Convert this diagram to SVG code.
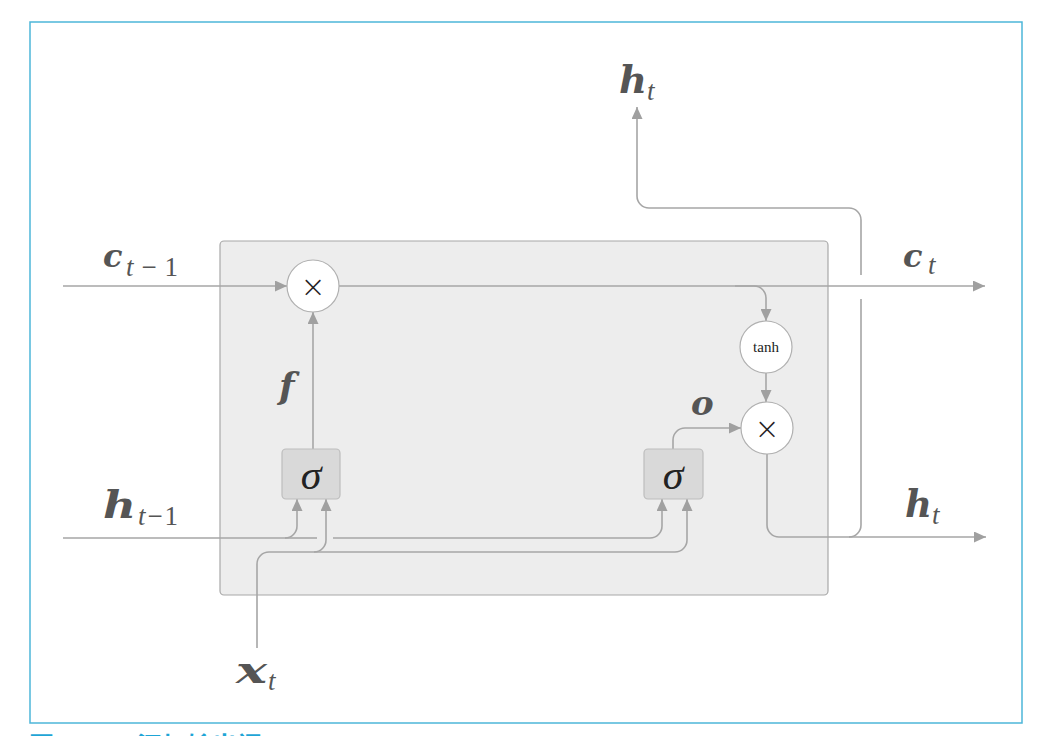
<svg xmlns="http://www.w3.org/2000/svg" width="1056" height="736" viewBox="0 0 1056 736">
  <style>
    .frame { fill: #ffffff; stroke: #4db6d9; stroke-width: 1.5; }
    .cell { fill: #ededed; stroke: #a8a8a8; stroke-width: 1.2; }
    .gate { fill: #d9d9d9; stroke: #bdbdbd; stroke-width: 1.2; }
    .op { fill: #ffffff; stroke: #b0b0b0; stroke-width: 1.2; }
    .wire { fill: none; stroke: #a6a6a6; stroke-width: 1.6; }
    .arrow { fill: none; stroke: #a6a6a6; stroke-width: 1.6; marker-end: url(#tip); }
    .var { font-family: "DejaVu Serif", "Liberation Serif", serif; font-weight: bold; font-style: italic; fill: #555555; }
    .sub { font-family: "Liberation Serif", serif; font-style: italic; fill: #555555; font-size: 27px; }
    .num { font-style: normal; }
    .sigma { font-family: "Liberation Serif", serif; font-style: italic; font-size: 42px; fill: #222222; text-anchor: middle; }
    .times { font-family: "DejaVu Sans", sans-serif; font-weight: 200; font-size: 30px; fill: #222222; text-anchor: middle; }
    .tanh { font-family: "Liberation Serif", serif; font-size: 15px; fill: #222222; text-anchor: middle; }
    .caption { font-family: "Noto Sans CJK SC", sans-serif; fill: #1ea5d6; font-weight: bold; font-size: 25px; }
  </style>
  <defs>
    <marker id="tip" markerUnits="userSpaceOnUse" markerWidth="13" markerHeight="11" refX="12" refY="5.5" orient="auto">
      <path d="M0,0 L12,5.5 L0,11 z" fill="#a0a0a0"/>
    </marker>
  </defs>

  <rect x="0" y="0" width="1056" height="736" fill="#ffffff"/>
  <rect class="frame" x="30" y="22" width="992" height="701"/>

  <!-- LSTM cell body -->
  <g id="cell">
    <rect class="cell" x="220" y="241" width="608" height="354" rx="4"/>
  </g>

  <!-- connectors -->
  <g id="connectors">
    <!-- memory cell path -->
    <path class="arrow" d="M63,286 H287"/>
    <path class="arrow" d="M339,286 H985"/>
    <path class="arrow" d="M735,286 H754 A12,12 0 0 1 766,298 V321"/>
    <path class="arrow" d="M766,373 V402"/>
    <!-- forget gate -->
    <path class="arrow" d="M313,449 V312"/>
    <!-- output gate -->
    <path class="arrow" d="M673,449 V440 A12,12 0 0 1 685,428 H741"/>
    <!-- previous hidden state -->
    <path class="arrow" d="M63,538 H285 A12,12 0 0 0 297,526 V499"/>
    <path class="wire" d="M285,538 H317"/>
    <path class="arrow" d="M333,538 H650 A12,12 0 0 0 662,526 V499"/>
    <!-- input x_t -->
    <path class="wire" d="M257,648 V564 A12,12 0 0 1 269,552 H314"/>
    <path class="arrow" d="M314,552 A12,12 0 0 0 326,540 V499"/>
    <path class="arrow" d="M314,552 H675 A12,12 0 0 0 687,540 V499"/>
    <!-- new hidden state -->
    <path class="arrow" d="M767,454 V525 A12,12 0 0 0 779,537 H986"/>
    <path class="wire" d="M849,537 A12,12 0 0 0 861,525 V299"/>
    <path class="arrow" d="M861,275 V220 A12,12 0 0 0 849,208 H649 A12,12 0 0 1 637,196 V107"/>
  </g>

  <g id="mul-forget">
    <circle class="op" cx="313" cy="286" r="26"/>
    <text class="times" x="313" y="297">×</text>
  </g>
  <g id="tanh">
    <circle class="op" cx="766" cy="347" r="26"/>
    <text class="tanh" x="766" y="352">tanh</text>
  </g>
  <g id="mul-output">
    <circle class="op" cx="767" cy="428" r="26"/>
    <text class="times" x="767" y="439">×</text>
  </g>
  <g id="sigma-forget">
    <rect class="gate" x="282" y="449" width="58" height="50" rx="4"/>
    <text class="sigma" x="311" y="489">σ</text>
  </g>
  <g id="sigma-output">
    <rect class="gate" x="644" y="449" width="59" height="50" rx="4"/>
    <text class="sigma" x="673" y="489">σ</text>
  </g>

  <!-- variable labels -->
  <g id="labels">
    <text x="103" y="267"><tspan class="var" font-size="32">c</tspan><tspan class="sub" x="126" y="276" textLength="52" lengthAdjust="spacing">t<tspan class="num">−1</tspan></tspan></text>
    <text x="903" y="267"><tspan class="var" font-size="32">c</tspan><tspan class="sub" x="928" y="274">t</tspan></text>
    <text x="103" y="518"><tspan class="var" font-size="38" textLength="33" lengthAdjust="spacingAndGlyphs">h</tspan><tspan class="sub" x="138" y="525" textLength="40" lengthAdjust="spacing">t<tspan class="num">−1</tspan></tspan></text>
    <text x="905" y="517"><tspan class="var" font-size="38" textLength="27" lengthAdjust="spacingAndGlyphs">h</tspan><tspan class="sub" x="932" y="524">t</tspan></text>
    <text x="619" y="93"><tspan class="var" font-size="38" textLength="28" lengthAdjust="spacingAndGlyphs">h</tspan><tspan class="sub" x="647" y="100">t</tspan></text>
    <text x="236" y="683"><tspan class="var" font-size="37" textLength="31" lengthAdjust="spacingAndGlyphs">x</tspan><tspan class="sub" x="268" y="690">t</tspan></text>
    <text class="var" font-size="36" x="279" y="398">f</text>
    <text class="var" font-size="34" x="691" y="415">o</text>
  </g>

  <text class="caption" x="29" y="755">图 6-17<tspan x="137">添加输出门</tspan></text>
</svg>
